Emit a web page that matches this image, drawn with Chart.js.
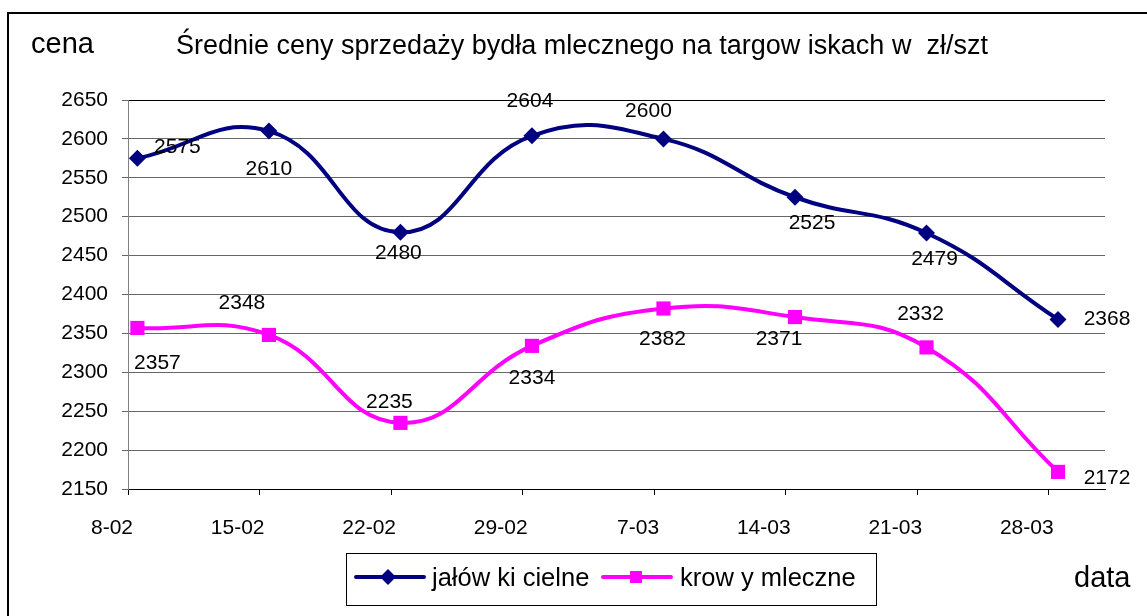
<!DOCTYPE html>
<html>
<head>
<meta charset="utf-8">
<script src="https://cdn.jsdelivr.net/npm/chart.js@4.4.0/dist/chart.umd.min.js"></script>
<style>
  body { margin: 0; background: #fff; }
</style>
</head>
<body>
<canvas id="chart" width="1147" height="616"></canvas>
<script>
// tick labels on the date axis (one per week)
const tickLabels = ['8-02', '15-02', '22-02', '29-02', '7-03', '14-03', '21-03', '28-03'];
// day of each reading, counted from 8-02
const pointDays = [0.5, 7.5, 14.5, 21.5, 28.5, 35.5, 42.5, 49.5];
const jalowki = [2575, 2610, 2480, 2604, 2600, 2525, 2479, 2368];
const krowy = [2357, 2348, 2235, 2334, 2382, 2371, 2332, 2172];

// where each value label sits relative to its marker
const offsJalowki = [[40, -11], [0, 38], [-2, 21], [-2, -35], [-15, -28], [17, 26], [8, 26], [49, 0]];
const offsKrowy = [[20, 35], [-27, -32], [-11, -21], [0, 32], [-1, 31], [-16, 22], [-6, -33], [49, 6]];

const FONT = "'Liberation Sans', Arial, sans-serif";
const NAVY = '#000080';
const PINK = '#FF00FF';

const extras = {
  id: 'extras',
  afterDatasetsDraw(chart) {
    const ctx = chart.ctx;
    ctx.save();
    ctx.fillStyle = '#000';
    ctx.font = '21px ' + FONT;
    ctx.textAlign = 'center';
    ctx.textBaseline = 'middle';
    [[0, jalowki, offsJalowki], [1, krowy, offsKrowy]].forEach(([di, vals, offs]) => {
      const meta = chart.getDatasetMeta(di);
      meta.data.forEach((pt, i) => {
        ctx.fillText(String(vals[i]), pt.x + offs[i][0], pt.y + offs[i][1]);
      });
    });
    ctx.restore();
  },
  afterDraw(chart) {
    const ctx = chart.ctx;
    ctx.save();
    // outer frame
    ctx.strokeStyle = '#000';
    ctx.lineWidth = 2;
    ctx.strokeRect(8, 13, 1160, 640);

    ctx.fillStyle = '#000';
    ctx.textBaseline = 'alphabetic';
    ctx.textAlign = 'left';
    ctx.font = '27px ' + FONT;
    ctx.fillText('Średnie ceny sprzedaży bydła mlecznego na targow iskach w  zł/szt', 176, 54);
    ctx.font = '29px ' + FONT;
    ctx.fillText('cena', 31, 53);
    ctx.fillText('data', 1074, 587);

    // legend
    ctx.lineWidth = 1;
    ctx.strokeStyle = '#000';
    ctx.strokeRect(346.5, 553.5, 530, 52);
    ctx.lineWidth = 4;
    ctx.lineCap = 'round';
    ctx.strokeStyle = NAVY;
    ctx.beginPath(); ctx.moveTo(356, 577); ctx.lineTo(424, 577); ctx.stroke();
    ctx.fillStyle = NAVY;
    ctx.beginPath();
    ctx.moveTo(388, 569); ctx.lineTo(396, 577); ctx.lineTo(388, 585); ctx.lineTo(380, 577);
    ctx.closePath(); ctx.fill();
    ctx.strokeStyle = PINK;
    ctx.beginPath(); ctx.moveTo(603, 577); ctx.lineTo(671, 577); ctx.stroke();
    ctx.fillStyle = PINK;
    ctx.fillRect(630, 571, 12, 12);

    ctx.fillStyle = '#000';
    ctx.font = '25.5px ' + FONT;
    ctx.fillText('jałów ki cielne', 432, 586);
    ctx.fillText('krow y mleczne', 680, 586);
    ctx.restore();
  }
};

new Chart(document.getElementById('chart'), {
  type: 'line',
  data: {
    datasets: [
      {
        label: 'jałów ki cielne',
        data: pointDays.map((d, i) => ({ x: d, y: jalowki[i] })),
        borderColor: NAVY,
        backgroundColor: NAVY,
        borderWidth: 4,
        tension: 0.45,
        pointStyle: 'rectRot',
        pointRadius: 8.5,
        pointBorderWidth: 0,
        clip: false
      },
      {
        label: 'krow y mleczne',
        data: pointDays.map((d, i) => ({ x: d, y: krowy[i] })),
        borderColor: PINK,
        backgroundColor: PINK,
        borderWidth: 4,
        tension: 0.45,
        pointStyle: 'rect',
        pointRadius: 10,
        pointBorderWidth: 0,
        clip: false
      }
    ]
  },
  options: {
    responsive: false,
    animation: false,
    layout: { padding: { top: 100, right: 42, left: 0, bottom: 0 } },
    plugins: {
      legend: { display: false },
      title: { display: false },
      tooltip: { enabled: false }
    },
    scales: {
      x: {
        type: 'linear',
        min: 0,
        max: 52,
        afterBuildTicks: (scale) => {
          scale.ticks = tickLabels.map((t, i) => ({ value: i * 7 }));
        },
        afterFit: (scale) => { scale.height = 127; },
        grid: {
          drawOnChartArea: false,
          drawTicks: true,
          tickLength: 6,
          tickColor: '#000'
        },
        border: { color: '#000', width: 1 },
        ticks: {
          autoSkip: false,
          maxRotation: 0,
          align: 'end',
          labelOffset: 5,
          padding: 21,
          color: '#000',
          font: { family: FONT, size: 21 },
          callback: (v) => tickLabels[Math.round(v / 7)]
        }
      },
      y: {
        min: 2150,
        max: 2650,
        afterFit: (scale) => { scale.width = 128; },
        grid: {
          color: (c) => (c.tick && c.tick.value === 2650 ? '#000' : '#666'),
          tickLength: 6,
          tickColor: '#666'
        },
        border: { color: '#808080', width: 1 },
        ticks: {
          stepSize: 50,
          padding: 14,
          color: '#000',
          font: { family: FONT, size: 21 },
          callback: (v) => String(v)
        }
      }
    }
  },
  plugins: [extras]
});
</script>
</body>
</html>
